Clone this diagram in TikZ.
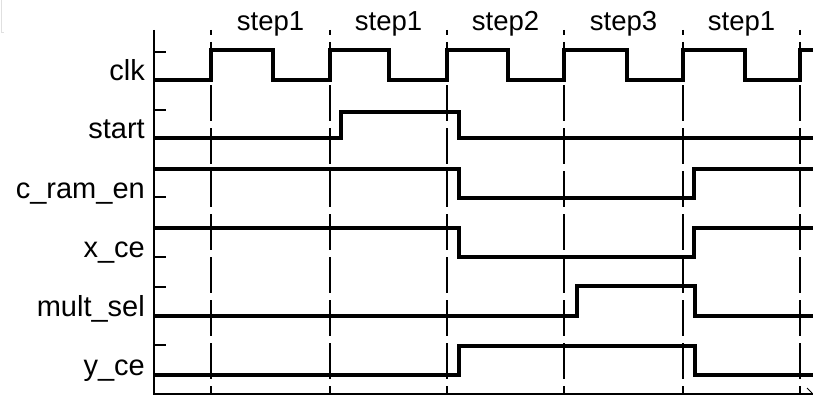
\documentclass[tikz,border=0pt]{standalone}
\usepackage{fontspec}
\setmainfont{Liberation Sans}
\begin{document}
\begin{tikzpicture}[x=1pt,y=-1pt,
  sig/.style={line width=3.5pt, line join=miter},
  axisline/.style={line width=2pt},
  tickline/.style={line width=2pt},
  gridline/.style={line width=2pt, dash pattern=on 36pt off 7pt, dash phase=31pt},
  lab/.style={anchor=base east, inner sep=0pt, font=\fontsize{29}{30}\selectfont},
  steplab/.style={anchor=base, inner sep=0pt, font=\fontsize{27.5}{30}\selectfont}]
\useasboundingbox (0,0) rectangle (813,396);
% faint corner artifact
\draw[black!12, line width=1pt] (1,0) -- (1,33) -- (4,33);
% axes
\coordinate (ax0) at (154,30);
\coordinate (ax1) at (154,394);
\coordinate (ax2) at (813,394);
\draw[axisline] (ax0) -- (ax1) -- (ax2);
\draw[line width=1pt] (807,388) -- (812,393);
% dashed step boundaries
\foreach \x/\n in {211/a,330/b,447/c,564/d,683/e,800/f}{
  \coordinate (g\n t) at (\x,30);
  \coordinate (g\n b) at (\x,394);
  \draw[gridline] (g\n t) -- (g\n b);
}
% ticks
\foreach \y in {52,110,197,257,287,345}{
  \draw[tickline] (154,\y) -- (166,\y);
}
% step labels
\node[steplab] (s1) at (270.5,31) {step1};
\node[steplab] (s2) at (388.5,31) {step1};
\node[steplab] (s3) at (505.5,31) {step2};
\node[steplab] (s4) at (623.5,31) {step3};
\node[steplab] (s5) at (741.5,31) {step1};
% signal labels
\node[lab] (lclk) at (145,80) {clk};
\node[lab] (lstart) at (145,138) {start};
\node[lab] (lcram) at (145,198) {c\_ram\_en};
\node[lab] (lxce) at (145,257) {x\_ce};
\node[lab] (lmult) at (145,316) {mult\_sel};
\node[lab] (lyce) at (145,375) {y\_ce};
% waveforms
\draw[sig] (154,80) -| (211,50) -| (273,80) -| (330,50) -| (389,80) -| (447,50)
  -| (508,80) -| (564,50) -| (627,80) -| (683,50) -| (745,80) -| (800,50) -- (813,50);
\draw[sig] (154,138) -| (341,112) -| (459,138) -- (813,138);
\draw[sig] (154,169) -| (459,198) -| (694,169) -- (813,169);
\draw[sig] (154,228) -| (459,257) -| (694,228) -- (813,228);
\draw[sig] (154,316) -| (577,286) -| (695,316) -- (813,316);
\draw[sig] (154,375) -| (459,346) -| (695,375) -- (813,375);
\end{tikzpicture}
\end{document}
